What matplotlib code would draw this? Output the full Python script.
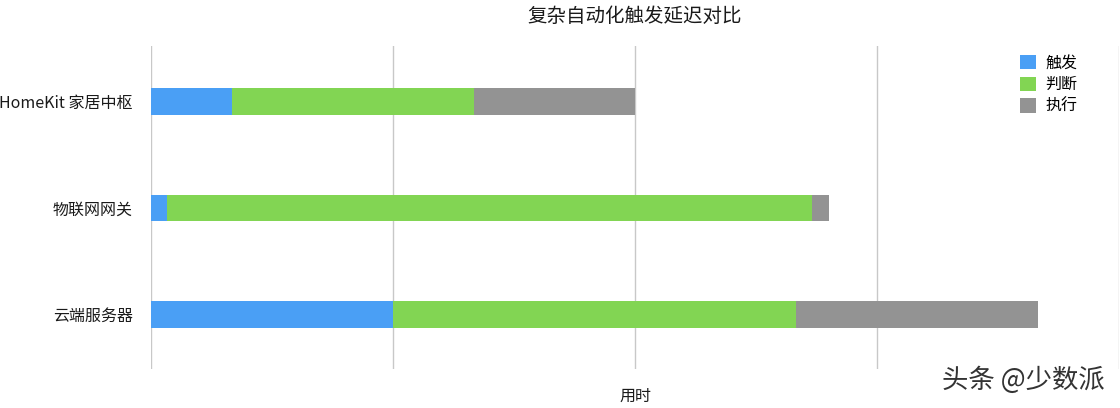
import matplotlib
matplotlib.use("Agg")
import matplotlib.pyplot as plt
import numpy as np

plt.rcParams['font.family'] = ['Noto Sans CJK SC', 'DejaVu Sans']

categories = ["HomeKit 家居中枢", "物联网网关", "云端服务器"]
series_names = ["触发", "判断", "执行"]
trigger = [100, 20, 300]
judge = [300, 800, 500]
execute = [200, 20, 300]
colors = ["#4A9FF5", "#82D553", "#939393"]
x_ticks = [0, 300, 600, 900, 1200]

fig = plt.figure(figsize=(11.2, 4.08), dpi=100)
ax = fig.add_axes([151/1120, 1 - 369/408, (1119 - 151)/1120, (369 - 46)/408])

y = np.arange(len(categories))
left = np.zeros(len(categories))
for vals, name, c in zip([trigger, judge, execute], series_names, colors):
    ax.barh(y, vals, left=left, height=0.25, color=c, label=name, zorder=3)
    left += np.array(vals)

ax.set_xlim(0, 1200)
ax.set_ylim(2.51, -0.52)
ax.set_xticks(x_ticks)
ax.set_xticklabels([])
ax.set_yticks(y)
ax.set_yticklabels(categories, fontsize=11.5, color="#1a1a1a")
ax.tick_params(axis='both', length=0)
ax.tick_params(axis='y', pad=13)
ax.grid(axis='x', color="#c8c8c8", linewidth=1, zorder=0)
for s in ax.spines.values():
    s.set_visible(False)

fig.text(635/1120, 1 - 396/408, "用时", ha='center', va='center',
         fontsize=11.5, color="#1a1a1a")
fig.text(635/1120, 1 - 16/408, "复杂自动化触发延迟对比", ha='center', va='center',
         fontsize=14, color="#1a1a1a")

leg = ax.legend(loc='upper right', bbox_to_anchor=(1092/1120, 1 - 40/408),
                bbox_transform=fig.transFigure, frameon=False, fontsize=11.5,
                handlelength=1.0, handleheight=1.0, handletextpad=0.6,
                labelspacing=0.3)

fig.text(1105/1120, 1 - 380/408, "头条 @少数派", ha='right', va='center',
         fontsize=19, color="#333333")

fig.savefig("out.png", dpi=100)
